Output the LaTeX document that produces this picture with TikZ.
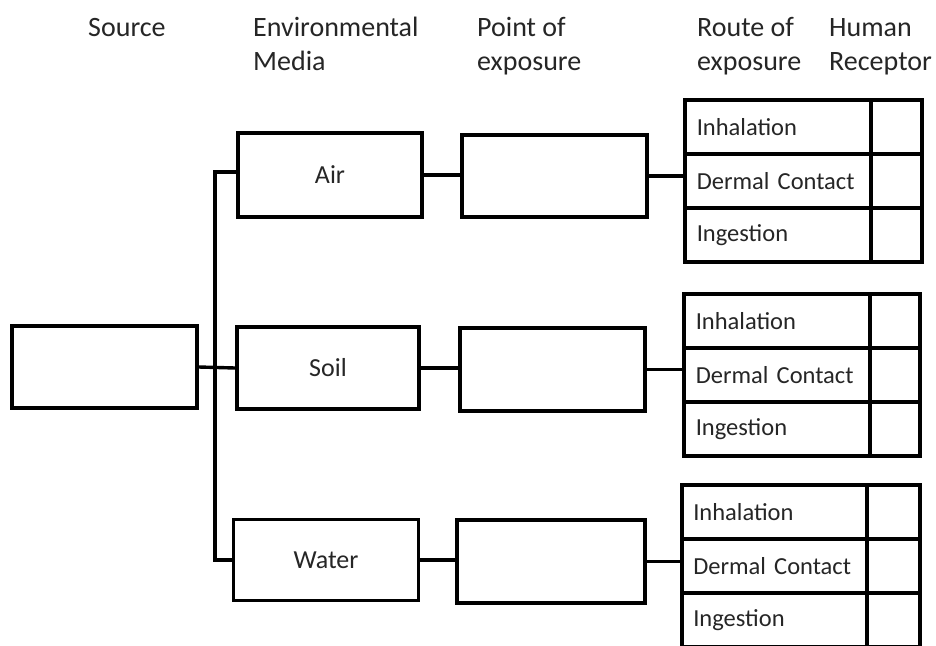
\documentclass[tikz,border=0pt]{standalone}
\usepackage{fontspec}
\setmainfont{Carlito}
\newfontfamily\rowfont[WordSpace=0.6]{Carlito}
\definecolor{txt}{HTML}{262626}
\tikzset{
  box/.style={draw=black, line width=3.8pt, rectangle, inner sep=0pt, fill=white,
    font=\fontsize{26}{31}\selectfont, text=txt},
  cell/.style={draw=black, line width=3.6pt, rectangle, inner sep=0pt, anchor=north west,
    minimum height=54pt, text=txt, font=\rowfont\fontsize{24.5}{29}\selectfont, align=left},
  hdr/.style={anchor=base west, inner sep=0pt, text=txt, font=\fontsize{28}{34}\selectfont},
  conn/.style={draw=black, line width=3.4pt}
}
\begin{document}
\begin{tikzpicture}[x=1pt, y=-1pt]
\useasboundingbox[fill=white] (0,0) rectangle (936,645);
% headers
\node[hdr] (h1) at (88,36) {Source};
\node[hdr] (h2a) at (253,36) {Environmental};
\node[hdr] (h2b) at (253,70) {Media};
\node[hdr] (h3a) at (477,36) {Point of};
\node[hdr] (h3b) at (477,70) {exposure};
\node[hdr] (h4a) at (697,36) {Route of};
\node[hdr] (h4b) at (697,70) {exposure};
\node[hdr] (h5a) at (829,36) {Human};
\node[hdr] (h5b) at (829,70) {Receptor};
% source
\node[box, minimum width=185pt, minimum height=82pt] (src) at (104.5,367) {};
% media
\node[box, minimum width=184pt, minimum height=84pt] (air) at (330,175) {Air};
\node[box, minimum width=182pt, minimum height=82pt] (soil) at (328,368) {Soil};
\node[box, minimum width=185pt, minimum height=81pt] (water) at (326,560) {Water};
% points of exposure
\node[box, minimum width=185pt, minimum height=82pt] (p1) at (554.5,176) {};
\node[box, minimum width=185pt, minimum height=83pt] (p2) at (552.5,369.5) {};
\node[box, minimum width=188pt, minimum height=83pt] (p3) at (551,561.5) {};
% table 1
\node[cell, minimum width=186pt, text width=172pt] (r1a) at (683,98) {\hspace*{5pt}Inhalation};
\node[cell, minimum width=186pt, text width=172pt] (r1b) at (683,152) {\hspace*{5pt}Dermal Contact};
\node[cell, minimum width=186pt, text width=172pt] (r1c) at (683,206) {\hspace*{5pt}Ingestion};
\node[cell, minimum width=51pt] (q1a) at (869,98) {};
\node[cell, minimum width=51pt] (q1b) at (869,152) {};
\node[cell, minimum width=51pt] (q1c) at (869,206) {};
% table 2
\node[cell, minimum width=186pt, text width=172pt] (r2a) at (682,292) {\hspace*{5pt}Inhalation};
\node[cell, minimum width=186pt, text width=172pt] (r2b) at (682,346) {\hspace*{5pt}Dermal Contact};
\node[cell, minimum width=186pt, text width=172pt] (r2c) at (682,400) {\hspace*{5pt}Ingestion};
\node[cell, minimum width=50pt] (q2a) at (868,292) {};
\node[cell, minimum width=50pt] (q2b) at (868,346) {};
\node[cell, minimum width=50pt] (q2c) at (868,400) {};
% table 3
\node[cell, minimum width=185pt, text width=172pt] (r3a) at (680,483) {\hspace*{5pt}Inhalation};
\node[cell, minimum width=185pt, text width=172pt] (r3b) at (680,537) {\hspace*{5pt}Dermal Contact};
\node[cell, minimum width=185pt, text width=172pt] (r3c) at (680,591) {\hspace*{5pt}Ingestion};
\node[cell, minimum width=53pt] (q3a) at (865,483) {};
\node[cell, minimum width=53pt] (q3b) at (865,537) {};
\node[cell, minimum width=53pt] (q3c) at (865,591) {};
% trunk
\coordinate (tx) at (215,0);
\draw[conn] ([yshift=3pt]air.west) -| (water.west -| tx) -- (water.west);
\draw[conn] (src.east) -- (soil.west);
% media to points
\draw[conn] (air.east) -- (air.east -| p1.west);
\draw[conn] (soil.east) -- (soil.east -| p2.west);
\draw[conn] (water.east) -- (water.east -| p3.west);
% points to routes
\draw[conn] (p1.east) -- (p1.east -| r1b.west);
\draw[conn] (p2.east) -- (p2.east -| r2b.west);
\draw[conn] (p3.east) -- (p3.east -| r3b.west);
\end{tikzpicture}
\end{document}
